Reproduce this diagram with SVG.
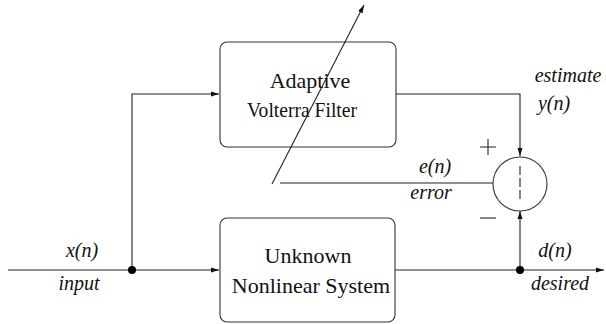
<svg xmlns="http://www.w3.org/2000/svg" width="606" height="324" viewBox="0 0 606 324">
<defs>
<marker id="ah" markerWidth="8" markerHeight="6" refX="8" refY="3" orient="auto" markerUnits="userSpaceOnUse">
<path d="M0,0.5 L8,3 L0,5.5 Z" fill="#111"/>
</marker>
<style>
.box{fill:#fff;stroke:#333;stroke-width:1.1}
.ln{fill:none;stroke:#222;stroke-width:1.1}
.bt{font-family:"Liberation Serif",serif;font-size:22px;fill:#111;text-anchor:middle}
.it{font-family:"Liberation Serif",serif;font-style:italic;font-size:20px;fill:#111}
.dot{fill:#000}
</style>
</defs>
<g id="connectors">
<path class="ln" d="M8,270 H219" marker-end="url(#ah)"/>
<path class="ln" d="M132,270 V94 H219" marker-end="url(#ah)"/>
<path class="ln" d="M396,94 H520 V156" marker-end="url(#ah)"/>
<path class="ln" d="M395,270 H604" marker-end="url(#ah)"/>
<path class="ln" d="M520,270 V211" marker-end="url(#ah)"/>
<path class="ln" d="M493,183 H280"/>
<circle class="dot" cx="132" cy="270" r="4"/>
<circle class="dot" cx="520" cy="270" r="4"/>
</g>
<g id="filter">
<rect class="box" x="220" y="42" width="176" height="105" rx="7"/>
<text class="bt" x="310" y="88">Adaptive</text>
<text class="bt" x="302" y="117" textLength="110" lengthAdjust="spacingAndGlyphs">Volterra Filter</text>
</g>
<g id="system">
<rect class="box" x="220" y="218" width="175" height="104" rx="7"/>
<text class="bt" x="308" y="263">Unknown</text>
<text class="bt" x="311" y="293">Nonlinear System</text>
</g>
<g id="sum">
<circle cx="520" cy="184" r="27" fill="#fff" stroke="#333" stroke-width="1.1"/>
<line x1="520" y1="166" x2="520" y2="202" stroke="#333" stroke-width="1.2" stroke-dasharray="9 3"/>
<path class="ln" d="M480,147 H496 M488,139 V155"/>
<path class="ln" d="M480,218 H496"/>
</g>
<g id="adaptation">
<path class="ln" d="M272,184 L364,5" marker-end="url(#ah)"/>
</g>
<g id="labels">
<text class="it" x="568" y="82" text-anchor="middle">estimate</text>
<text class="it" x="554" y="110" text-anchor="middle">y(n)</text>
<text class="it" x="435" y="173" text-anchor="middle">e(n)</text>
<text class="it" x="431" y="199" text-anchor="middle">error</text>
<text class="it" x="555" y="257" text-anchor="middle">d(n)</text>
<text class="it" x="560" y="290" text-anchor="middle">desired</text>
<text class="it" x="82" y="257" text-anchor="middle">x(n)</text>
<text class="it" x="79" y="290" text-anchor="middle">input</text>
</g>
</svg>
